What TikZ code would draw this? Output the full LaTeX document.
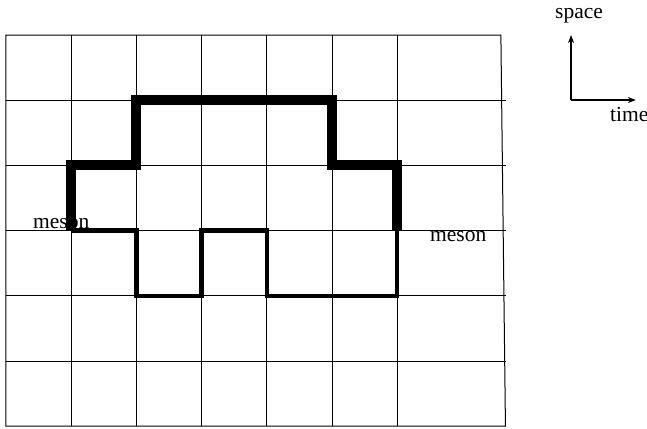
\documentclass[tikz,border=0pt]{standalone}
\usepackage{fontspec}
\setmainfont{Liberation Serif}
\usetikzlibrary{arrows.meta}
\tikzset{
  gridline/.style={line width=1pt},
  quarkline/.style={line width=10pt, line join=miter},
  antiline/.style={line width=4.3pt, line join=miter},
  axisline/.style={line width=1.4pt, -{Stealth[length=8pt,width=6pt]}},
  lbl/.style={inner sep=0pt, anchor=base west, font=\fontsize{21.5}{25}\selectfont}
}
\begin{document}
\begin{tikzpicture}[x=65.2pt, y=-65.2pt]
                \useasboundingbox (-0.092,-0.537) rectangle (9.831,6.028);
                \node[lbl] (lmeson) at (0.414,2.975) {meson};
                \node[lbl] (rmeson) at (6.503,3.16) {meson};
                \foreach \x in {1,...,6}
                \draw[gridline] (\x,0) -- (\x,6);
                \foreach \y in {1,...,5}
                \draw[gridline] (0,\y) -- (7.67,\y);
                \draw[gridline] (7.66,6) -- (0,6) -- (0,0) -- (7.59,0) -- cycle;
                \draw[quarkline] (1,3) -- (1,2) -- (2,2) -- (2,1) -- (5,1) -- (5,2) -- (6,2) -- (6,3);
                \draw[antiline] (1,3) -- (2,3) -- (2,4) -- (3,4) -- (3,3) -- (4,3) -- (4,4) -- (6,4) -- (6,3);
                \coordinate (axo) at (8.666,0.997);
                \coordinate (spacetip) at (8.666,0);
                \coordinate (timetip) at (9.66,0.997);
                \draw[axisline] (axo) -- (spacetip);
                \draw[axisline] (axo) -- (timetip);
                \node[lbl] (spacelbl) at (8.42,-0.26) {space};
                \node[lbl] (timelbl) at (9.264,1.327) {time};
            \end{tikzpicture}
\end{document}
